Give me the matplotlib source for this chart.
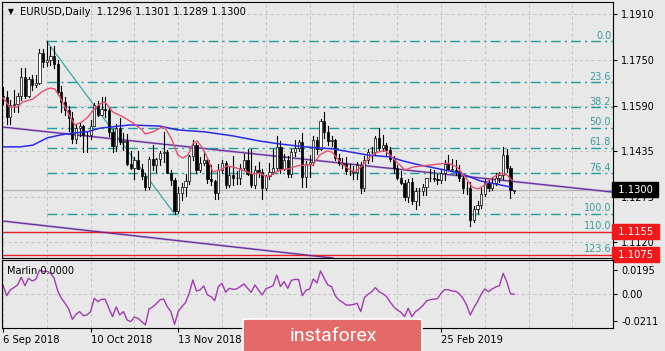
import matplotlib
matplotlib.use("Agg")
import matplotlib.pyplot as plt
from matplotlib.patches import FancyBboxPatch

# EURUSD daily bars, 6 Sep 2018 .. 25 Mar 2019 (index = bar number)
opens = [1.1624, 1.1623, 1.1552, 1.1594, 1.1599, 1.1626, 1.1690, 1.1625, 1.1685, 1.1665,
         1.1670, 1.1775, 1.1745, 1.1749, 1.1765, 1.1738, 1.1640, 1.1604, 1.1577, 1.1549,
         1.1478, 1.1513, 1.1523, 1.1490, 1.1490, 1.1523, 1.1595, 1.1560, 1.1580, 1.1577,
         1.1500, 1.1452, 1.1513, 1.1466, 1.1470, 1.1391, 1.1375, 1.1403, 1.1373, 1.1347,
         1.1310, 1.1407, 1.1387, 1.1406, 1.1428, 1.1430, 1.1360, 1.1335, 1.1225, 1.1289,
         1.1310, 1.1330, 1.1417, 1.1455, 1.1370, 1.1393, 1.1402, 1.1338, 1.1330, 1.1290,
         1.1370, 1.1393, 1.1315, 1.1352, 1.1342, 1.1341, 1.1375, 1.1405, 1.1355, 1.1318,
         1.1370, 1.1362, 1.1306, 1.1348, 1.1362, 1.1375, 1.1450, 1.1372, 1.1403, 1.1355,
         1.1430, 1.1444, 1.1467, 1.1345, 1.1390, 1.1395, 1.1472, 1.1443, 1.1540, 1.1500,
         1.1468, 1.1472, 1.1412, 1.1394, 1.1390, 1.1365, 1.1365, 1.1362, 1.1385, 1.1305,
         1.1405, 1.1430, 1.1432, 1.1480, 1.1445, 1.1456, 1.1437, 1.1406, 1.1375, 1.1342,
         1.1325, 1.1275, 1.1328, 1.1260, 1.1295, 1.1295, 1.1310, 1.1340, 1.1340, 1.1337,
         1.1335, 1.1357, 1.1390, 1.1370, 1.1370, 1.1365, 1.1340, 1.1307, 1.1307, 1.1195,
         1.1235, 1.1247, 1.1285, 1.1325, 1.1305, 1.1325, 1.1340, 1.1350, 1.1420, 1.1375,
         1.1296]
highs = [1.1655, 1.1643, 1.1610, 1.1646, 1.1635, 1.1721, 1.1723, 1.1690, 1.1700, 1.1700,
         1.1790, 1.1789, 1.1815, 1.1794, 1.1799, 1.1752, 1.1660, 1.1623, 1.1590, 1.1570,
         1.1530, 1.1531, 1.1525, 1.1500, 1.1541, 1.1600, 1.1609, 1.1622, 1.1621, 1.1585,
         1.1512, 1.1530, 1.1549, 1.1497, 1.1495, 1.1433, 1.1413, 1.1433, 1.1390, 1.1360,
         1.1414, 1.1456, 1.1410, 1.1433, 1.1500, 1.1437, 1.1370, 1.1340, 1.1310, 1.1323,
         1.1355, 1.1422, 1.1472, 1.1464, 1.1415, 1.1433, 1.1408, 1.1387, 1.1335, 1.1389,
         1.1402, 1.1401, 1.1380, 1.1419, 1.1365, 1.1390, 1.1423, 1.1443, 1.1440, 1.1384,
         1.1396, 1.1373, 1.1350, 1.1392, 1.1440, 1.1486, 1.1469, 1.1425, 1.1416, 1.1443,
         1.1472, 1.1474, 1.1497, 1.1400, 1.1420, 1.1485, 1.1484, 1.1545, 1.1570, 1.1520,
         1.1488, 1.1478, 1.1425, 1.1412, 1.1415, 1.1388, 1.1381, 1.1395, 1.1395, 1.1418,
         1.1440, 1.1449, 1.1486, 1.1514, 1.1489, 1.1462, 1.1448, 1.1419, 1.1386, 1.1364,
         1.1333, 1.1338, 1.1340, 1.1306, 1.1305, 1.1319, 1.1342, 1.1372, 1.1370, 1.1355,
         1.1368, 1.1404, 1.1420, 1.1408, 1.1403, 1.1385, 1.1355, 1.1327, 1.1327, 1.1245,
         1.1262, 1.1305, 1.1338, 1.1338, 1.1345, 1.1357, 1.1362, 1.1448, 1.1440, 1.1383,
         1.1301]
lows = [1.1598, 1.1529, 1.1530, 1.1570, 1.1570, 1.1610, 1.1620, 1.1622, 1.1648, 1.1655,
        1.1668, 1.1727, 1.1730, 1.1732, 1.1722, 1.1630, 1.1570, 1.1560, 1.1505, 1.1463,
        1.1463, 1.1486, 1.1430, 1.1432, 1.1478, 1.1520, 1.1555, 1.1558, 1.1554, 1.1485,
        1.1432, 1.1434, 1.1460, 1.1437, 1.1385, 1.1372, 1.1337, 1.1372, 1.1336, 1.1300,
        1.1303, 1.1369, 1.1361, 1.1385, 1.1398, 1.1357, 1.1316, 1.1216, 1.1218, 1.1263,
        1.1279, 1.1320, 1.1405, 1.1358, 1.1363, 1.1387, 1.1323, 1.1316, 1.1267, 1.1268,
        1.1360, 1.1305, 1.1310, 1.1318, 1.1320, 1.1321, 1.1365, 1.1353, 1.1310, 1.1305,
        1.1345, 1.1269, 1.1300, 1.1338, 1.1355, 1.1370, 1.1360, 1.1368, 1.1345, 1.1345,
        1.1418, 1.1436, 1.1310, 1.1310, 1.1344, 1.1385, 1.1424, 1.1438, 1.1480, 1.1456,
        1.1453, 1.1402, 1.1385, 1.1374, 1.1354, 1.1353, 1.1336, 1.1336, 1.1289, 1.1296,
        1.1393, 1.1401, 1.1420, 1.1437, 1.1433, 1.1420, 1.1400, 1.1360, 1.1337, 1.1321,
        1.1265, 1.1257, 1.1250, 1.1234, 1.1249, 1.1281, 1.1283, 1.1330, 1.1330, 1.1319,
        1.1325, 1.1335, 1.1370, 1.1364, 1.1353, 1.1329, 1.1290, 1.1287, 1.1176, 1.1187,
        1.1220, 1.1238, 1.1279, 1.1295, 1.1300, 1.1318, 1.1327, 1.1338, 1.1362, 1.1270,
        1.1289]
closes = [1.1623, 1.1552, 1.1594, 1.1599, 1.1626, 1.1690, 1.1625, 1.1685, 1.1665, 1.1670,
          1.1775, 1.1745, 1.1749, 1.1765, 1.1738, 1.1640, 1.1604, 1.1577, 1.1549, 1.1478,
          1.1513, 1.1523, 1.1490, 1.1490, 1.1523, 1.1595, 1.1560, 1.1580, 1.1577, 1.1500,
          1.1452, 1.1513, 1.1466, 1.1470, 1.1391, 1.1375, 1.1403, 1.1373, 1.1347, 1.1310,
          1.1407, 1.1387, 1.1406, 1.1428, 1.1430, 1.1360, 1.1335, 1.1225, 1.1289, 1.1310,
          1.1330, 1.1417, 1.1455, 1.1370, 1.1393, 1.1402, 1.1338, 1.1330, 1.1290, 1.1370,
          1.1393, 1.1315, 1.1352, 1.1342, 1.1341, 1.1375, 1.1405, 1.1355, 1.1318, 1.1370,
          1.1362, 1.1306, 1.1348, 1.1362, 1.1375, 1.1450, 1.1372, 1.1403, 1.1355, 1.1430,
          1.1444, 1.1467, 1.1345, 1.1390, 1.1395, 1.1472, 1.1443, 1.1540, 1.1500, 1.1468,
          1.1472, 1.1412, 1.1394, 1.1390, 1.1365, 1.1365, 1.1362, 1.1385, 1.1305, 1.1405,
          1.1430, 1.1432, 1.1480, 1.1445, 1.1456, 1.1437, 1.1406, 1.1375, 1.1342, 1.1325,
          1.1275, 1.1328, 1.1260, 1.1295, 1.1295, 1.1310, 1.1340, 1.1340, 1.1337, 1.1335,
          1.1357, 1.1390, 1.1370, 1.1370, 1.1365, 1.1340, 1.1307, 1.1307, 1.1195, 1.1235,
          1.1247, 1.1285, 1.1325, 1.1305, 1.1325, 1.1340, 1.1350, 1.1420, 1.1375, 1.1300,
          1.1300]

# red (fast) and blue (slow) moving averages, read at bar positions
red_bars = [0, 1.9, 3.8, 5.5, 8.2, 9.6, 11.0, 12.9, 14.2, 15.6, 17.0, 18.4, 19.7, 21.6, 23.3,
            25.2, 26.6, 27.9, 30.1, 32.9, 35.6, 38.1, 38.9, 41.1, 43.6, 44.4, 46.3, 47.9,
            49.3, 50.7, 52.1, 53.2, 54.5, 55.9, 57.5, 59.5, 61.4, 63.0, 64.9, 66.8, 68.5,
            70.4, 72.3, 74.0, 75.9, 78.1, 80.5, 82.7, 84.9, 86.8, 88.8, 90.1, 91.5, 93.2,
            95.1, 96.4, 97.8, 99.2, 101.1, 102.7, 104.7, 106.0, 107.9, 110.1, 112.3, 117.0,
            119.7, 121.9, 124.4, 126.6, 128.5, 130.1, 132.1, 133.4, 135.3, 136.7, 138.1, 139.5]
red_ma = [1.1619, 1.1587, 1.1587, 1.1605, 1.1615, 1.1629, 1.1643, 1.1653, 1.1650, 1.1622,
          1.1587, 1.1553, 1.1525, 1.1535, 1.1553, 1.1584, 1.1598, 1.1605, 1.1570, 1.1553,
          1.1532, 1.1508, 1.1494, 1.1501, 1.1518, 1.1515, 1.1473, 1.1421, 1.1410, 1.1421,
          1.1462, 1.1469, 1.1448, 1.1414, 1.1362, 1.1369, 1.1383, 1.1379, 1.1372, 1.1362,
          1.1355, 1.1358, 1.1344, 1.1355, 1.1369, 1.1372, 1.1383, 1.1386, 1.1386, 1.1421,
          1.1435, 1.1431, 1.1410, 1.1386, 1.1369, 1.1362, 1.1376, 1.1396, 1.1421, 1.1431,
          1.1435, 1.1421, 1.1396, 1.1369, 1.1379, 1.1386, 1.1390, 1.1393, 1.1379, 1.1344,
          1.1310, 1.1303, 1.1317, 1.1337, 1.1351, 1.1358, 1.1351, 1.1331]
blue_bars = [-0.3, 4.7, 8.2, 12.1, 15.6, 19.2, 23.0, 26.6, 34.8, 43.0, 47.7, 55.3, 63.0,
             70.4, 75.9, 82.7, 90.4, 99.7, 106.0, 109.6, 114.2, 119.7, 125.2, 130.7, 136.2, 138.9]
blue_ma = [1.1449, 1.1449, 1.1455, 1.1480, 1.1490, 1.1497, 1.1501, 1.1514, 1.1525, 1.1521,
           1.1508, 1.1501, 1.1487, 1.1469, 1.1459, 1.1449, 1.1442, 1.1421, 1.1414, 1.1400,
           1.1386, 1.1372, 1.1358, 1.1331, 1.1317, 1.1310]

# Marlin oscillator, one value per bar
marlin = [0.0075, -0.0011, 0.0035, 0.0054, 0.0075, 0.0136, 0.0070, 0.0128, 0.0107, 0.0120,
          0.0195, 0.0182, 0.0185, 0.0171, 0.0128, 0.0027, -0.0032, -0.0072, -0.0118, -0.0201,
          -0.0160, -0.0139, -0.0171, -0.0166, -0.0139, -0.0032, -0.0059, -0.0040, -0.0040, -0.0112,
          -0.0179, -0.0102, -0.0166, -0.0139, -0.0206, -0.0219, -0.0182, -0.0193, -0.0219, -0.0246,
          -0.0118, -0.0102, -0.0075, -0.0045, -0.0037, -0.0099, -0.0139, -0.0241, -0.0139, -0.0099,
          -0.0067, 0.0008, 0.0115, 0.0027, 0.0035, 0.0067, -0.0005, -0.0019, -0.0051, 0.0062,
          0.0088, 0.0016, 0.0048, 0.0040, 0.0043, 0.0062, 0.0083, 0.0048, 0.0016, 0.0075,
          0.0035, -0.0005, 0.0043, 0.0056, 0.0070, 0.0155, 0.0062, 0.0102, 0.0048, 0.0112,
          0.0120, 0.0118, -0.0011, 0.0032, 0.0043, 0.0123, 0.0091, 0.0187, 0.0128, 0.0075,
          0.0062, -0.0011, -0.0045, -0.0064, -0.0086, -0.0086, -0.0083, -0.0072, -0.0139, -0.0027,
          0.0000, 0.0021, 0.0054, 0.0021, 0.0005, -0.0016, -0.0059, -0.0099, -0.0126, -0.0144,
          -0.0179, -0.0112, -0.0179, -0.0139, -0.0118, -0.0091, -0.0054, -0.0043, -0.0040, -0.0035,
          0.0008, 0.0037, 0.0037, 0.0027, 0.0024, 0.0005, -0.0032, -0.0086, -0.0166, -0.0107,
          -0.0059, 0.0000, 0.0043, 0.0021, 0.0043, 0.0059, 0.0070, 0.0168, 0.0102, 0.0005,
          0.0000]

# fibonacci grid: swing high (bar 12) to swing low (bar 47)
fib_start, fib_end = 12, 47
fib_high, fib_low = 1.1815, 1.1216
fib_levels = [0.0, 23.6, 38.2, 50.0, 61.8, 76.4, 100.0]
fib_ext = [110.0, 123.6]

# channel lines (bar, price)
upper_line = ([-0.3, 167.1], [1.1518, 1.1292])
lower_line = ([-0.3, 90.4], [1.1192, 1.10633])

levels_red = [1.1155, 1.1075]
bid = 1.1300

price_ticks = [1.1910, 1.1750, 1.1590, 1.1435, 1.1275, 1.1120]
# the Dec and Jan labels sit under the logo, so only the visible ones are shown
date_ticks = [0, 24, 48, 72, 96, 120]
date_labels = ["6 Sep 2018", "10 Oct 2018", "13 Nov 2018", "", "", "25 Feb 2019"]
marlin_ticks = [0.0195, 0.0, -0.0211]
marlin_labels = ["0.0195", "0.00", "-0.0211"]

BG = "#e8e8e8"
GRID = "#c2c2c2"
TEAL = "#1f9c9c"

fig = plt.figure(figsize=(6.65, 3.51), dpi=100, facecolor=BG)
W, H = 665.0, 351.0
ax = fig.add_axes([2 / W, 1 - 258 / H, 611 / W, 256 / H], facecolor=BG)
ax2 = fig.add_axes([2 / W, 1 - 328 / H, 611 / W, 68 / H], facecolor=BG, sharex=ax)

n = len(closes)
idx = list(range(n))
xmin, xmax = -0.27, 167.1

# grid
for g in range(0, 169, 12):
    ax.axvline(g, color=GRID, lw=0.7, ls=(0, (3, 3)), zorder=0)
    ax2.axvline(g, color=GRID, lw=0.7, ls=(0, (3, 3)), zorder=0)
for t in price_ticks:
    ax.axhline(t, color=GRID, lw=0.7, ls=(0, (3, 3)), zorder=0)
ax2.axhline(0, color=GRID, lw=0.7, ls=(0, (3, 3)), zorder=0)

# bid line
ax.axhline(bid, color="#b4b4b4", lw=0.9, zorder=0.5)

# channel lines
for line in (upper_line, lower_line):
    ax.plot(line[0], line[1], color="#a886cf", lw=1.5, zorder=1)
    ax.plot(line[0], line[1], color="#5c1f8c", lw=0.6, zorder=1.1)

# red horizontal levels
for lv in levels_red:
    ax.axhline(lv, color="#e8202a", lw=1.0, zorder=1)

# fibonacci
rng = fib_high - fib_low
ax.plot([fib_start, fib_end], [fib_high, fib_low], color="#3aa8a8", lw=0.9, zorder=1.2)
for lv in fib_levels:
    p = fib_high - rng * lv / 100
    ax.plot([fib_start, xmax], [p, p], color=TEAL, lw=1.0, ls=(0, (7, 3, 1.5, 3)), zorder=1.2)
for lv in fib_levels + fib_ext:
    p = fib_high - rng * lv / 100
    ax.text(0.997, p + 0.0002, f"{lv:.1f}", transform=ax.get_yaxis_transform(),
            ha="right", va="bottom", fontsize=7, color="#3a9d9f", zorder=2)

# candles
for i in idx:
    ax.plot([i, i], [lows[i], highs[i]], color="black", lw=0.8, zorder=2)
bottoms = [min(o, c) for o, c in zip(opens, closes)]
heights = [max(abs(c - o), 0.00006) for o, c in zip(opens, closes)]
faces = ["white" if c >= o else "black" for o, c in zip(opens, closes)]
ax.bar(idx, heights, bottom=bottoms, width=0.6, color=faces, edgecolor="black",
       linewidth=0.5, zorder=2.1)

# moving averages
ax.plot(blue_bars, blue_ma, color="#2a2ae6", lw=1.1, zorder=2.5)
ax.plot(red_bars, red_ma, color="#e8506c", lw=1.0, zorder=2.6)

ax.set_xlim(xmin, xmax)
ax.set_ylim(1.10634, 1.19516)
ax.yaxis.tick_right()
ax.set_yticks(price_ticks)
ax.set_yticklabels([f"{t:.4f}" for t in price_ticks])
ax.tick_params(axis="y", direction="out", length=3, pad=3, labelsize=7, colors="black")
ax.tick_params(axis="x", length=0, labelbottom=False)

# price labels on the right
ax.text(1.003, bid, " 1.1300 ", transform=ax.get_yaxis_transform(), ha="left", va="center",
        fontsize=7.2, color="white", clip_on=False, zorder=5,
        bbox=dict(boxstyle="square,pad=0.25", fc="black", ec="black"))
for lv in levels_red:
    ax.text(1.003, lv, f" {lv:.4f} ", transform=ax.get_yaxis_transform(), ha="left", va="center",
            fontsize=7.2, color="white", clip_on=False, zorder=5,
            bbox=dict(boxstyle="square,pad=0.25", fc="#f01818", ec="#f01818"))

# indicator panel
ax2.plot(idx, marlin, color="#a03cb0", lw=1.0)
ax2.set_ylim(-0.02705, 0.02753)
ax2.yaxis.tick_right()
ax2.set_yticks(marlin_ticks)
ax2.set_yticklabels(marlin_labels)
ax2.tick_params(axis="y", direction="out", length=3, pad=3, labelsize=7)
ax2.set_xticks(date_ticks)
ax2.set_xticklabels(date_labels, ha="left")
ax2.tick_params(axis="x", direction="out", length=3, pad=2, labelsize=7.2)
ax2.text(0.008, 0.84, "Marlin 0.0000", transform=ax2.transAxes, fontsize=7, va="center")

for a in (ax, ax2):
    for s in a.spines.values():
        s.set_color("black")
        s.set_linewidth(0.8)

# header
fig.text(8 / W, 1 - 12 / H, "\u25bc", fontsize=5.5, va="center")
fig.text(20 / W, 1 - 12 / H, "EURUSD,Daily  1.1296 1.1301 1.1289 1.1300", fontsize=7.2, va="center")

# logo
logo = FancyBboxPatch((243 / W, -0.02), (422 - 243) / W, (351 - 319) / H + 0.02,
                      boxstyle="round,pad=0,rounding_size=0.006", transform=fig.transFigure,
                      fc="#e46a6a", ec="white", lw=1.2, zorder=10)
fig.add_artist(logo)
fig.text(333 / W, 1 - 336 / H, "instaforex", color="white", fontsize=14, family="Roboto",
         ha="center", va="center", zorder=11)

fig.savefig("out.png", dpi=100, facecolor=BG)
